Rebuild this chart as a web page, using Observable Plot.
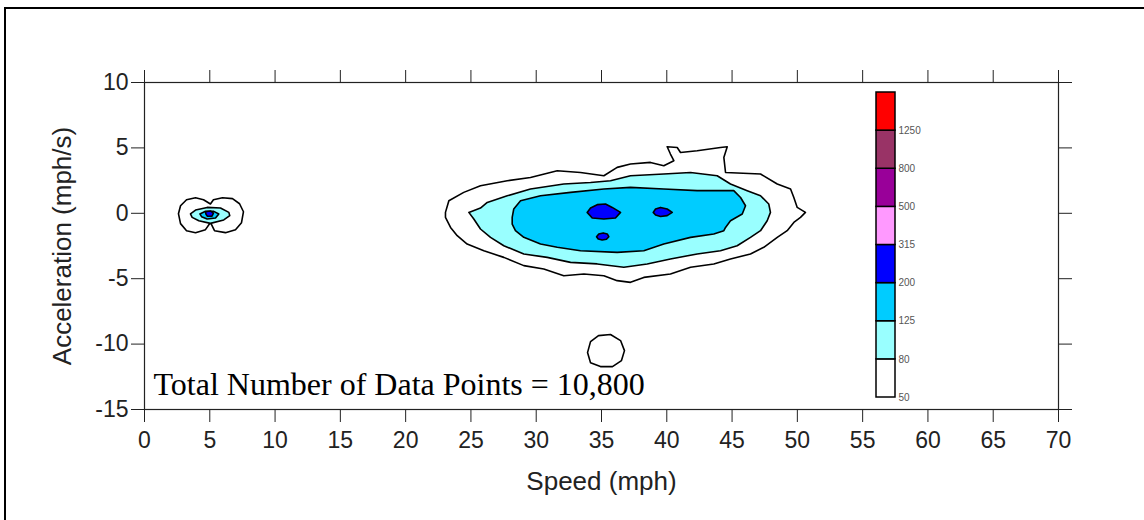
<!DOCTYPE html>
<html><head><meta charset="utf-8">
<script src="https://cdn.jsdelivr.net/npm/d3@7"></script>
<script src="https://cdn.jsdelivr.net/npm/@observablehq/plot@0.6"></script>
<style>
html,body{margin:0;padding:0;background:#fff;}
#wrap{position:relative;width:1144px;height:520px;overflow:hidden;background:#fff;}
#border{position:absolute;left:4px;top:7px;width:1200px;height:600px;border:2.5px solid #000;box-sizing:border-box;}
#chart{position:absolute;left:0;top:0;}
#legend{position:absolute;left:875px;top:88px;}
</style></head><body>
<div id="wrap"><div id="border"></div><div id="chart"></div><div id="legend"></div></div>
<script>
// Axis ticks
const speedTicks = [0,5,10,15,20,25,30,35,40,45,50,55,60,65,70];
const accelTicks = [-15,-10,-5,0,5,10];
// Contour levels (data points per cell) and colours
const levelBreaks = [50,80,125,200,315,500,800,1250];
const levelColors = ["#ffffff","#99ffff","#00ccff","#0000ff","#ff99ff","#990099","#993366","#ff0000"];
const totalLabel = "Total Number of Data Points = 10,800";

// Contour polygons: [speed (mph), acceleration (mph/s)]
const main50 = [[23.05,0.07],[23.31,0.96],[24.45,1.60],[25.73,2.11],[27.78,2.49],[29.56,2.74],[31.61,3.25],[33.39,3.12],[35.18,2.87],[36.2,3.51],[37.22,3.77],[38.75,3.89],[39.77,3.64],[40.54,4.02],[40.28,4.53],[40.03,5.09],[40.8,5.03],[41.05,4.65],[42.33,4.78],[44.11,5.03],[44.63,5.09],[44.37,4.27],[44.5,3.12],[47.18,3.0],[48.46,2.24],[49.48,1.86],[49.73,1.21],[49.99,0.45],[50.62,0.07],[50.24,-0.31],[49.73,-0.70],[49.22,-1.33],[48.46,-1.84],[47.43,-2.6],[46.41,-3.11],[44.88,-3.49],[43.6,-3.87],[41.82,-4.13],[40.28,-4.64],[38.24,-4.9],[37.22,-5.28],[36.2,-5.15],[35.18,-4.77],[33.65,-4.64],[32.11,-4.77],[30.58,-4.26],[29.05,-4.0],[27.52,-3.37],[25.99,-2.86],[24.71,-2.35],[23.95,-1.71],[23.44,-1.08],[23.05,-0.31]];
const main80 = [[24.84,0.07],[25.73,0.40],[26.25,0.83],[27.78,1.34],[29.56,1.86],[32.11,2.24],[34.16,2.36],[35.69,2.49],[37.22,2.87],[39.77,3.0],[41.82,3.12],[43.86,2.87],[44.88,2.24],[46.16,1.73],[47.18,1.34],[47.81,0.71],[47.94,0.07],[47.69,-0.57],[47.18,-1.33],[46.41,-1.84],[45.39,-2.48],[44.11,-2.86],[42.33,-3.11],[40.28,-3.49],[38.5,-3.87],[36.71,-4.13],[34.67,-3.87],[32.63,-3.75],[30.84,-3.37],[29.05,-3.11],[27.52,-2.48],[26.5,-1.84],[25.73,-1.2],[25.22,-0.44]];
const main125 = [[28.16,-0.31],[28.28,0.33],[28.8,0.96],[30.33,1.34],[32.63,1.6],[35.18,1.86],[37.22,1.98],[39.77,1.86],[42.33,1.73],[45.13,1.73],[45.65,1.21],[46.03,0.58],[45.78,-0.05],[44.88,-0.57],[44.5,-1.08],[44.37,-1.33],[43.6,-1.58],[41.82,-1.84],[39.77,-2.35],[38.24,-2.86],[36.2,-2.99],[33.39,-2.86],[31.61,-2.6],[30.33,-2.35],[29.05,-1.84],[28.41,-1.33],[28.16,-0.82]];
const main200a = [[33.9,0.07],[34.16,0.40],[34.67,0.66],[35.31,0.71],[35.82,0.45],[36.46,0.07],[36.07,-0.36],[35.18,-0.44],[34.29,-0.36]];
const main200b = [[38.96,0.07],[39.14,0.33],[39.52,0.45],[40.03,0.33],[40.42,0.07],[40.03,-0.18],[39.52,-0.24],[39.14,-0.13]];
const main200c = [[34.62,-1.79],[34.79,-1.58],[35.13,-1.5],[35.44,-1.58],[35.56,-1.79],[35.38,-1.99],[35.05,-2.04],[34.75,-1.97]];
const low50 = [[33.93,-10.65],[34.16,-9.81],[34.77,-9.35],[35.69,-9.27],[36.46,-9.73],[36.76,-10.5],[36.53,-11.26],[35.84,-11.72],[34.92,-11.72],[34.16,-11.42]];
const idle50 = [[2.60,-0.03],[2.76,0.58],[3.22,1.04],[3.91,1.19],[4.52,1.04],[5.05,0.71],[5.28,1.04],[5.97,1.19],[6.74,1.12],[7.28,0.73],[7.58,0.12],[7.43,-0.72],[6.97,-1.25],[6.2,-1.48],[5.36,-1.33],[5.05,-0.7],[4.67,-1.25],[3.91,-1.48],[3.22,-1.33],[2.76,-0.79]];
const idle80 = [[3.52,-0.05],[3.91,0.25],[4.80,0.45],[5.82,0.40],[6.46,0.07],[6.53,-0.18],[6.07,-0.51],[5.05,-0.77],[4.16,-0.57],[3.65,-0.31]];
const idle125 = [[4.24,-0.05],[4.67,0.15],[5.31,0.15],[5.69,-0.05],[5.44,-0.36],[4.80,-0.44],[4.37,-0.26]];
const idle200 = [[4.67,0.12],[5.05,0.18],[5.28,0.01],[5.17,-0.22],[4.82,-0.22],[4.71,-0.07]];

const contours = [
  {pts: main50, level: 0}, {pts: main80, level: 1}, {pts: main125, level: 2},
  {pts: main200a, level: 3}, {pts: main200b, level: 3}, {pts: main200c, level: 3},
  {pts: low50, level: 0},
  {pts: idle50, level: 0}, {pts: idle80, level: 1}, {pts: idle125, level: 2}, {pts: idle200, level: 3}
];

const chart = Plot.plot({
  width: 1144, height: 520,
  marginLeft: 144, marginRight: 86, marginTop: 82, marginBottom: 111,
  style: {fontFamily: "'Liberation Sans', Arial, sans-serif", fontSize: "23px", color: "#222", background: "transparent", overflow: "visible"},
  x: {domain: [0, 70]},
  y: {domain: [-15, 10]},
  marks: [
    ...contours.map(c => Plot.line(c.pts, {x: d => d[0], y: d => d[1], curve: "linear-closed", fill: levelColors[c.level], stroke: "black", strokeWidth: 1.6})),
    Plot.frame({stroke: "#222", strokeWidth: 1.2}),
    Plot.axisX({anchor: "bottom", ticks: speedTicks, tickSize: 13, tickPadding: 9, tickFormat: d => String(d), label: null}),
    Plot.axisX({anchor: "bottom", ticks: [], label: "Speed (mph)", labelAnchor: "center", labelArrow: "none", labelOffset: 80, fontSize: 26}),
    Plot.axisX({anchor: "top", ticks: speedTicks, tickSize: 13, tickFormat: () => "", label: null}),
    Plot.axisY({anchor: "left", ticks: accelTicks, tickSize: 13, tickPadding: 3, tickFormat: d => String(d), label: null}),
    Plot.axisY({anchor: "left", ticks: [], label: "Acceleration (mph/s)", labelAnchor: "center", labelArrow: "none", labelOffset: 92, fontSize: 26}),
    Plot.axisY({anchor: "right", ticks: accelTicks, tickSize: 13, tickFormat: () => "", label: null}),
    Plot.text([totalLabel], {frameAnchor: "bottom-left", text: d => d, dx: 9, dy: -15, textAnchor: "start", lineAnchor: "bottom", fontFamily: "'Liberation Serif', 'Times New Roman', serif", fontSize: 32, fill: "black"})
  ]
});
document.getElementById("chart").appendChild(chart);

const legend = Plot.plot({
  width: 70, height: 318,
  marginLeft: 1, marginRight: 50, marginTop: 4, marginBottom: 9,
  style: {fontFamily: "'Liberation Sans', Arial, sans-serif", fontSize: "10px", color: "#555", background: "transparent", overflow: "visible"},
  color: {type: "identity"},
  x: {domain: [0, 1], axis: null},
  y: {domain: [0, levelColors.length], axis: null},
  marks: [
    Plot.rect(levelColors, {x1: 0, x2: 1, y1: (d, i) => i, y2: (d, i) => i + 1, fill: d => d, stroke: "black", strokeWidth: 1.5}),
    Plot.axisY({anchor: "right", ticks: d3.range(levelBreaks.length), tickFormat: i => String(levelBreaks[i]), tickSize: 0, tickPadding: 3, label: null})
  ]
});
document.getElementById("legend").appendChild(legend);
</script>
</body></html>
